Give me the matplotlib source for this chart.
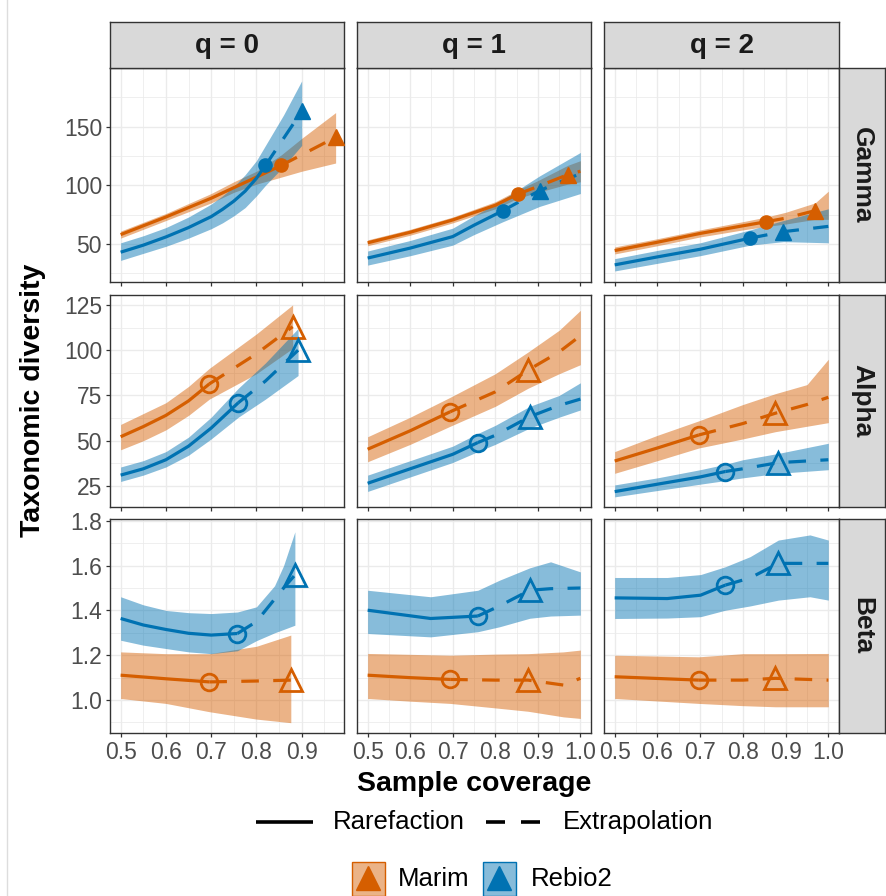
import matplotlib
matplotlib.use("Agg")
import matplotlib.pyplot as plt
from matplotlib.lines import Line2D
from matplotlib.patches import Rectangle
import numpy as np

plt.rcParams['font.family'] = ['Liberation Sans', 'DejaVu Sans']

# ---------------- data ----------------
sites = ['Marim', 'Rebio2']
orders = ['q = 0', 'q = 1', 'q = 2']
levels = ['Gamma', 'Alpha', 'Beta']
line_types = ['Rarefaction', 'Extrapolation']

# Gamma, q = 0
g0_m_x = [0.5, 0.6, 0.7, 0.75, 0.8, 0.855, 0.9, 0.975]
g0_m_y = [58, 73, 89, 98, 107, 117, 126, 141]
g0_m_lo = [55, 70, 85, 94, 101, 107, 112, 119]
g0_m_hi = [61, 76, 93, 103, 112, 126, 140, 162]
g0_m_obs, g0_m_ext = 0.855, 0.975
g0_r_x = [0.5, 0.55, 0.6, 0.65, 0.7, 0.725, 0.75, 0.775, 0.8, 0.82, 0.86, 0.9]
g0_r_y = [43, 49, 56, 64, 73.3, 79.5, 86.5, 95, 106, 117, 140, 163]
g0_r_lo = [36, 42, 48, 55, 63, 68, 74, 81, 91, 100, 116, 134]
g0_r_hi = [51, 57, 64, 73, 84, 91, 99, 109, 121, 134, 160, 189]
g0_r_obs, g0_r_ext = 0.82, 0.9

# Gamma, q = 1
g1_m_x = [0.5, 0.6, 0.7, 0.8, 0.853, 0.9, 0.97, 1.0]
g1_m_y = [51, 60, 70.5, 83, 92.5, 99, 109, 112]
g1_m_lo = [48.5, 57.5, 68, 80, 89, 94, 101, 103]
g1_m_hi = [53.5, 62.5, 73, 86, 96, 104, 117, 121]
g1_m_obs, g1_m_ext = 0.853, 0.97
g1_r_x = [0.5, 0.6, 0.7, 0.75, 0.818, 0.904, 1.0]
g1_r_y = [38, 46.5, 56.3, 66, 78.4, 95.5, 110]
g1_r_lo = [32, 40, 49, 58, 69, 82, 93]
g1_r_hi = [44, 53, 63.5, 74, 88, 108, 128]
g1_r_obs, g1_r_ext = 0.818, 0.904

# Gamma, q = 2
g2_m_x = [0.5, 0.6, 0.7, 0.8, 0.855, 0.9, 0.969, 1.0]
g2_m_y = [44.4, 51.5, 59, 65.5, 69, 72, 78.4, 80]
g2_m_lo = [41.5, 48.5, 56, 62, 65, 67, 71, 71]
g2_m_hi = [47.5, 54.5, 62, 69, 73, 77, 85, 95]
g2_m_obs, g2_m_ext = 0.855, 0.969
g2_r_x = [0.5, 0.6, 0.7, 0.817, 0.895, 1.0]
g2_r_y = [32.2, 39, 45.5, 55, 60.5, 65]
g2_r_lo = [27, 33.5, 40, 49, 52, 51]
g2_r_hi = [37.5, 44.5, 51, 62, 70, 80]
g2_r_obs, g2_r_ext = 0.817, 0.895

# Alpha, q = 0
a0_m_x = [0.5, 0.55, 0.6, 0.65, 0.696, 0.8, 0.88]
a0_m_y = [52.2, 57.8, 64, 72, 81.4, 98, 113]
a0_m_lo = [45, 50, 56, 64, 73, 87, 101]
a0_m_hi = [59, 65, 71, 80, 90, 109, 125]
a0_m_obs, a0_m_ext = 0.696, 0.88
a0_r_x = [0.5, 0.55, 0.6, 0.65, 0.7, 0.76, 0.82, 0.892]
a0_r_y = [31, 34.5, 39.5, 47, 57, 71, 83, 100]
a0_r_lo = [27.5, 31, 35.5, 42, 51, 63, 73, 86]
a0_r_hi = [35.5, 39, 44, 52, 63, 79, 93, 112]
a0_r_obs, a0_r_ext = 0.76, 0.892

# Alpha, q = 1
a1_m_x = [0.5, 0.6, 0.694, 0.8, 0.877, 0.95, 1.0]
a1_m_y = [45.3, 55.5, 66, 77, 89, 99, 108]
a1_m_lo = [38.4, 48, 58, 69, 79, 87, 92]
a1_m_hi = [52.2, 63, 74, 87, 99, 111, 122]
a1_m_obs, a1_m_ext = 0.694, 0.877
a1_r_x = [0.5, 0.6, 0.7, 0.759, 0.8, 0.881, 0.95, 1.0]
a1_r_y = [26.5, 34.5, 42.5, 49, 53, 63.3, 69.5, 73]
a1_r_lo = [22, 30, 38, 44, 48, 57, 63, 67]
a1_r_hi = [31, 39, 47, 54, 58.5, 69, 75, 82]
a1_r_obs, a1_r_ext = 0.759, 0.881

# Alpha, q = 2
a2_m_x = [0.5, 0.6, 0.697, 0.8, 0.876, 0.95, 1.0]
a2_m_y = [38.8, 46, 53.2, 59.5, 65.2, 70, 74]
a2_m_lo = [32, 39, 46, 51, 55, 58, 60]
a2_m_hi = [44, 53, 61, 70, 76, 81, 95]
a2_m_obs, a2_m_ext = 0.697, 0.876
a2_r_x = [0.5, 0.6, 0.7, 0.759, 0.8, 0.883, 1.0]
a2_r_y = [21.9, 26, 30, 33, 34.5, 37.9, 39.5]
a2_r_lo = [19, 22.5, 26, 28, 29.5, 32, 34]
a2_r_hi = [25.6, 29.5, 34, 37, 39.5, 43, 48.6]
a2_r_obs, a2_r_ext = 0.759, 0.883

# Beta, q = 0
b0_m_x = [0.5, 0.6, 0.696, 0.8, 0.876]
b0_m_y = [1.111, 1.095, 1.081, 1.085, 1.089]
b0_m_lo = [1.007, 0.985, 0.948, 0.915, 0.899]
b0_m_hi = [1.215, 1.207, 1.207, 1.24, 1.29]
b0_m_obs, b0_m_ext = 0.696, 0.876
b0_r_x = [0.5, 0.55, 0.6, 0.65, 0.7, 0.758, 0.8, 0.84, 0.86, 0.885]
b0_r_y = [1.364, 1.335, 1.315, 1.298, 1.29, 1.297, 1.35, 1.45, 1.50, 1.558]
b0_r_lo = [1.267, 1.245, 1.23, 1.215, 1.207, 1.22, 1.265, 1.30, 1.315, 1.334]
b0_r_hi = [1.461, 1.425, 1.40, 1.39, 1.386, 1.393, 1.416, 1.51, 1.60, 1.751]
b0_r_obs, b0_r_ext = 0.758, 0.885

# Beta, q = 1
b1_m_x = [0.5, 0.6, 0.694, 0.8, 0.877, 0.96, 1.0]
b1_m_y = [1.111, 1.10, 1.092, 1.089, 1.089, 1.067, 1.097]
b1_m_lo = [1.007, 0.995, 0.985, 0.965, 0.95, 0.925, 0.918]
b1_m_hi = [1.208, 1.204, 1.2, 1.205, 1.207, 1.215, 1.223]
b1_m_obs, b1_m_ext = 0.694, 0.877
b1_r_x = [0.5, 0.648, 0.759, 0.81, 0.881, 0.93, 1.0]
b1_r_y = [1.401, 1.364, 1.375, 1.42, 1.49, 1.497, 1.50]
b1_r_lo = [1.297, 1.282, 1.305, 1.327, 1.365, 1.375, 1.379]
b1_r_hi = [1.49, 1.461, 1.49, 1.535, 1.59, 1.617, 1.572]
b1_r_obs, b1_r_ext = 0.759, 0.881

# Beta, q = 2
b2_m_x = [0.5, 0.697, 0.8, 0.876, 1.0]
b2_m_y = [1.104, 1.089, 1.089, 1.097, 1.089]
b2_m_lo = [1.007, 0.985, 0.975, 0.97, 0.97]
b2_m_hi = [1.2, 1.193, 1.207, 1.207, 1.208]
b2_m_obs, b2_m_ext = 0.697, 0.876
b2_r_x = [0.5, 0.623, 0.701, 0.759, 0.817, 0.883, 0.957, 1.0]
b2_r_y = [1.456, 1.453, 1.468, 1.513, 1.545, 1.61, 1.61, 1.61]
b2_r_lo = [1.364, 1.366, 1.372, 1.401, 1.42, 1.446, 1.461, 1.446]
b2_r_hi = [1.547, 1.547, 1.56, 1.595, 1.64, 1.714, 1.737, 1.714]
b2_r_obs, b2_r_ext = 0.759, 0.883

# tick labels
x_ticks_col = [[0.5, 0.6, 0.7, 0.8, 0.9], [0.5, 0.6, 0.7, 0.8, 0.9, 1.0], [0.5, 0.6, 0.7, 0.8, 0.9, 1.0]]
y_ticks_row = [[50, 100, 150], [25, 50, 75, 100, 125], [1.0, 1.2, 1.4, 1.6, 1.8]]
y_fmt_row = ['{:.0f}', '{:.0f}', '{:.1f}']

# ---------------- assemble ----------------
G = globals()
panels = {}
for ri, p in enumerate(['g', 'a', 'b']):
    for ci in range(3):
        for si, s in enumerate(['m', 'r']):
            k = f'{p}{ci}_{s}_'
            panels[(ri, ci, si)] = dict(x=G[k + 'x'], y=G[k + 'y'], lo=G[k + 'lo'], hi=G[k + 'hi'],
                                        obs=G[k + 'obs'], ext=G[k + 'ext'])

# ---------------- style / layout ----------------
W, H = 887, 896
COLORS = ['#D55E00', '#0072B2']
RIB_ALPHA = 0.47
COLS = [(110, 344), (357, 591), (604, 839)]
ROWS = [(68, 282), (295, 507), (519, 733)]
XLIM = [(0.4765, 0.9935), (0.475, 1.025), (0.475, 1.025)]
YLIM = [(17.6, 200), (13.4, 130.5), (0.853, 1.808)]
Y_MINOR = [[25, 75, 125, 175], [37.5, 62.5, 87.5, 112.5], [0.9, 1.1, 1.3, 1.5, 1.7]]
X_MINOR = [0.55, 0.65, 0.75, 0.85, 0.95]
TICK_COL = '#4D4D4D'
FRAME = '#333333'
GRID = '#EBEBEB'
LW = 2.3
DASH = (0, (5.5, 4.5))

fig = plt.figure(figsize=(W / 100, H / 100), dpi=100)


def rect(l, t, r, b):
    return [l / W, 1 - b / H, (r - l) / W, (b - t) / H]


for ri in range(3):
    for ci in range(3):
        l, r = COLS[ci]
        t, b = ROWS[ri]
        ax = fig.add_axes(rect(l, t, r, b))
        ax.set_facecolor('white')
        ax.set_xlim(*XLIM[ci])
        ax.set_ylim(*YLIM[ri])
        ax.set_xticks(x_ticks_col[ci])
        ax.set_xticks(X_MINOR, minor=True)
        ax.set_yticks(y_ticks_row[ri])
        ax.set_yticks(Y_MINOR[ri], minor=True)
        ax.grid(True, which='major', color=GRID, lw=1.0, zorder=0)
        ax.grid(True, which='minor', color=GRID, lw=0.55, zorder=0)
        ax.set_axisbelow(True)
        for sp in ax.spines.values():
            sp.set_color(FRAME)
            sp.set_linewidth(1.0)
        ax.tick_params(which='minor', length=0)
        ax.tick_params(which='major', length=3.2, width=0.9, color=FRAME,
                       labelsize=16.5, labelcolor=TICK_COL, pad=2.5)
        if ri == 2:
            ax.set_xticklabels([f'{v:.1f}' for v in x_ticks_col[ci]])
        else:
            ax.tick_params(axis='x', labelbottom=False)
        if ci == 0:
            ax.set_yticklabels([y_fmt_row[ri].format(v) for v in y_ticks_row[ri]])
        else:
            ax.tick_params(axis='y', length=0, labelleft=False)

        # ribbons
        for si in range(2):
            d = panels[(ri, ci, si)]
            ax.fill_between(d['x'], d['lo'], d['hi'], color=COLORS[si], alpha=RIB_ALPHA,
                            lw=0, zorder=2)
        # lines
        for si in range(2):
            d = panels[(ri, ci, si)]
            x = np.array(d['x']); y = np.array(d['y'])
            m1 = x <= d['obs'] + 1e-9
            m2 = x >= d['obs'] - 1e-9
            ax.plot(x[m1], y[m1], color=COLORS[si], lw=LW, solid_capstyle='butt',
                    solid_joinstyle='round', zorder=3)
            ax.plot(x[m2], y[m2], color=COLORS[si], lw=LW, ls=DASH,
                    dash_capstyle='butt', zorder=3)
        # points
        for si in range(2):
            d = panels[(ri, ci, si)]
            x = list(d['x']); y = list(d['y'])
            oy = y[x.index(d['obs'])]
            ey = y[x.index(d['ext'])]
            if ri == 0:
                ax.plot([d['obs']], [oy], 'o', ms=9.5, color=COLORS[si], mec=COLORS[si], zorder=4)
                ax.plot([d['ext']], [ey], '^', ms=11.5, color=COLORS[si], mec=COLORS[si], zorder=4)
            else:
                ax.plot([d['obs']], [oy], 'o', ms=12, mfc='none', mec=COLORS[si], mew=2.0, zorder=4)
                ax.plot([d['ext']], [ey], '^', ms=16, mfc='none', mec=COLORS[si], mew=2.0, zorder=4)

# strips
for ci in range(3):
    l, r = COLS[ci]
    sa = fig.add_axes(rect(l, 22, r, 68))
    sa.set_facecolor('#D9D9D9')
    sa.set_xticks([]); sa.set_yticks([])
    for sp in sa.spines.values():
        sp.set_color(FRAME); sp.set_linewidth(1.0)
    sa.text(0.5, 0.47, orders[ci], ha='center', va='center', fontsize=20, fontweight='bold',
            color='#1A1A1A', transform=sa.transAxes)
for ri in range(3):
    t, b = ROWS[ri]
    sa = fig.add_axes(rect(839, t, 885, b))
    sa.set_facecolor('#D9D9D9')
    sa.set_xticks([]); sa.set_yticks([])
    for sp in sa.spines.values():
        sp.set_color(FRAME); sp.set_linewidth(1.0)
    sa.text(0.5, 0.5, levels[ri], ha='center', va='center', rotation=-90, fontsize=19,
            fontweight='bold', color='#1A1A1A', transform=sa.transAxes)

# axis titles
fig.text(33 / W, 1 - 400 / H, 'Taxonomic diversity', rotation=90, ha='center', va='center',
         fontsize=20.5, fontweight='bold', color='black')
fig.text(474 / W, 1 - 784 / H, 'Sample coverage', ha='center', va='center',
         fontsize=20.5, fontweight='bold', color='black')

# legends (drawn manually, in pixel positions)
def P(px, py):
    return (px / W, 1 - py / H)

ly = 822
fig.add_artist(Line2D([256 / W, 313 / W], [1 - ly / H] * 2, color='black', lw=2.6,
                      transform=fig.transFigure, solid_capstyle='butt'))
fig.text(*P(333, ly), line_types[0], ha='left', va='center', fontsize=18.5, color='black')
for a, b_ in [(486, 505), (521, 540)]:
    fig.add_artist(Line2D([a / W, b_ / W], [1 - ly / H] * 2, color='black', lw=2.6,
                          transform=fig.transFigure, solid_capstyle='butt'))
fig.text(*P(563, ly), line_types[1], ha='left', va='center', fontsize=18.5, color='black')

ky = 879
for si, (bx, tx) in enumerate([(352, 398), (483, 531)]):
    fig.add_artist(Rectangle(P(bx, 896), 33 / W, 34 / H, transform=fig.transFigure,
                             facecolor=COLORS[si], alpha=RIB_ALPHA, edgecolor='none'))
    fig.add_artist(Rectangle(P(bx, 896), 33 / W, 34 / H, transform=fig.transFigure,
                             facecolor='none', edgecolor=COLORS[si], lw=1.0))
    fig.add_artist(Line2D([(bx + 16.5) / W], [1 - (ky - 1) / H], marker='^', ms=17,
                          color=COLORS[si], transform=fig.transFigure))
    fig.text(*P(tx, ky), sites[si], ha='left', va='center', fontsize=18.5, color='black')

# faint outer frame line on the left
fig.add_artist(Line2D([7 / W, 7 / W], [0, 1], color='#DDDDDD', lw=1.0, transform=fig.transFigure))

fig.savefig('out.png', dpi=100)
